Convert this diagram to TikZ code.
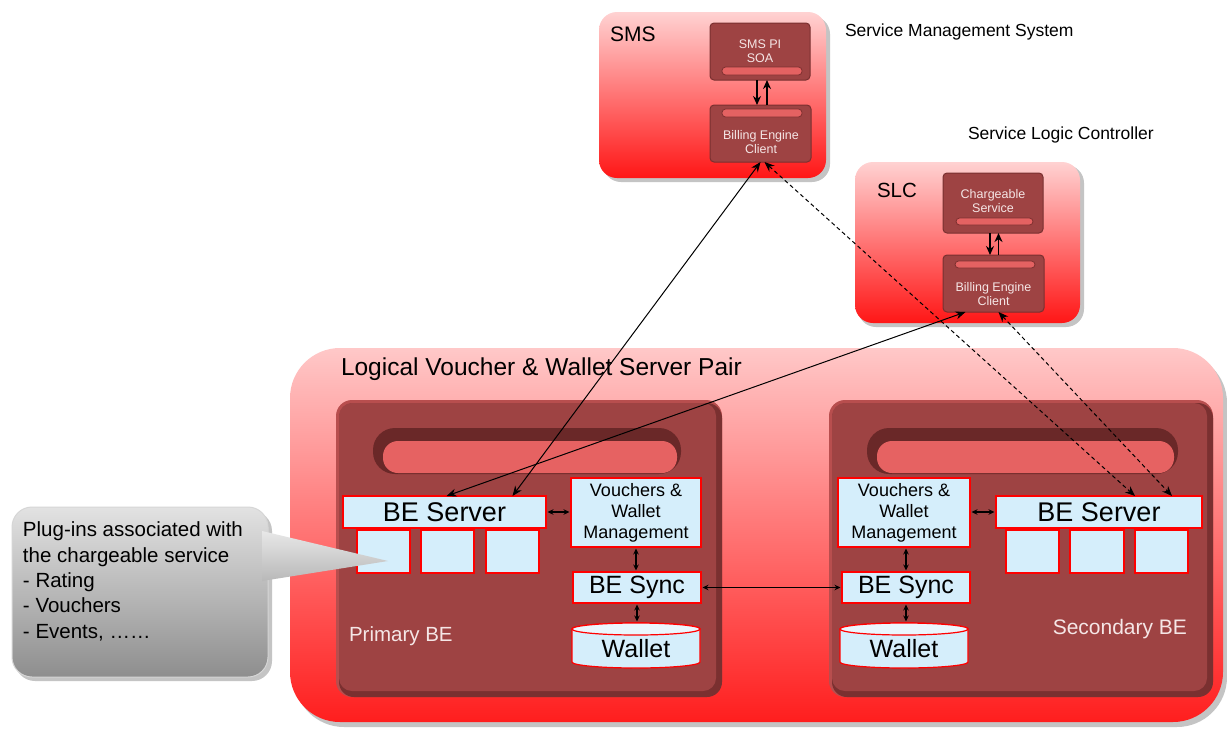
\documentclass[tikz,border=0pt]{standalone}
\usepackage{fontspec}
\setmainfont{Liberation Sans}
\usetikzlibrary{arrows.meta,calc}
\definecolor{pnlTop}{HTML}{FFD2D2}
\definecolor{pnlBot}{HTML}{FF1616}
\definecolor{bigTop}{HTML}{FFC8C8}
\definecolor{bigBot}{HTML}{FF1E1E}
\definecolor{darkbx}{HTML}{9E4343}
\definecolor{darkedge}{HTML}{7A3030}
\definecolor{lightedge}{HTML}{B84E4E}
\definecolor{stripec}{HTML}{E46262}
\definecolor{stripeedge}{HTML}{7E3030}
\definecolor{grooveD}{HTML}{6A2828}
\definecolor{grooveL}{HTML}{E66262}
\definecolor{lblue}{HTML}{D5EEFB}
\definecolor{lblueT}{HTML}{EAF6FD}
\definecolor{boxtxt}{HTML}{F5E6E6}
\definecolor{shadowc}{HTML}{C4C4C4}
\definecolor{callTop}{HTML}{E2E2E2}
\definecolor{callBot}{HTML}{8E8E8E}
\definecolor{callEdge}{HTML}{D6D6D6}
\definecolor{ptrTop}{HTML}{E8E8E8}
\definecolor{ptrBot}{HTML}{B8B8B8}
\begin{document}
\begin{tikzpicture}[x=1pt,y=1pt,
  panel/.style={rectangle,rounded corners=#1,draw=none,inner sep=0pt,outer sep=0pt},
  darkbox/.style={rectangle,rounded corners=4pt,fill=darkbx,draw=darkedge,line width=1pt,inner sep=0pt,outer sep=0pt},
  stripe/.style={rounded corners=3.5pt,fill=stripec,draw=stripeedge,line width=0.8pt},
  smalltxt/.style={inner sep=0pt,text=boxtxt,align=center,font=\fontsize{12.5}{14}\selectfont},
  bluebox/.style={rectangle,fill=lblue,draw=red,line width=1.2pt,inner sep=0pt,outer sep=0pt,text=black},
  lbl/.style={inner sep=0pt,outer sep=0pt,anchor=base west},
  bigarr/.style={{Stealth[length=10pt,width=8pt]}-{Stealth[length=10pt,width=8pt]},line width=1pt},
  oneway/.style={-{Stealth[length=9pt,width=8pt]},line width=1.8pt},
  twoway/.style={{Stealth[length=6pt,width=5.5pt]}-{Stealth[length=6pt,width=5.5pt]},line width=1.1pt,shorten <=1.5pt,shorten >=1.5pt},
  dsh/.style={dash pattern=on 4pt off 3pt}
]
\useasboundingbox (0,0) rectangle (1227,-729);
\fill[white] (0,0) rectangle (1227,-729);

% ---------- big panel ----------
\fill[shadowc,rounded corners=50pt] (294,-353) rectangle (1227,-727);
\node[panel=50pt,top color=bigTop,bottom color=bigBot,minimum width=933pt,minimum height=374pt] (pair) at (756.5,-535) {};
\node[lbl,font=\fontsize{24.5}{28}\selectfont] (pairlbl) at (341,-375) {Logical Voucher \& Wallet Server Pair};

% primary BE
\node[panel=16pt,fill=lightedge,minimum width=386pt,minimum height=297pt] (prim) at (529,-548.5) {};
\fill[darkedge,rounded corners=15pt] ([shift={(3,-3)}]prim.north west) rectangle (prim.south east);
\fill[darkbx,rounded corners=13pt] ([shift={(3,-3)}]prim.north west) rectangle ([shift={(-6,6)}]prim.south east);
\fill[grooveD,rounded corners=22pt] (373,-428) rectangle (681,-474);
\fill[grooveL,rounded corners=15pt] (383,-441) rectangle (677,-473);

% secondary BE
\node[panel=16pt,fill=lightedge,minimum width=384pt,minimum height=297pt] (sec) at (1021,-548.5) {};
\fill[darkedge,rounded corners=15pt] ([shift={(3,-3)}]sec.north west) rectangle (sec.south east);
\fill[darkbx,rounded corners=13pt] ([shift={(3,-3)}]sec.north west) rectangle ([shift={(-6,6)}]sec.south east);
\fill[grooveD,rounded corners=22pt] (867,-428) rectangle (1178,-474);
\fill[grooveL,rounded corners=15pt] (877,-441) rectangle (1174,-473);

\node[lbl,text=boxtxt,font=\fontsize{20.5}{24}\selectfont] (primlbl) at (349,-641) {Primary BE};
\node[inner sep=0pt,outer sep=0pt,anchor=base east,text=boxtxt,font=\fontsize{21}{24}\selectfont] (seclbl) at (1187,-634) {Secondary BE};

% primary blue boxes
\node[bluebox,minimum width=203pt,minimum height=32pt,font=\fontsize{27}{30}\selectfont] (bes1) at (444.5,-512) {BE Server};
\node[bluebox,minimum width=53pt,minimum height=43pt] (p1a) at (383.5,-551.5) {};
\node[bluebox,minimum width=53pt,minimum height=43pt] (p1b) at (447.5,-551.5) {};
\node[bluebox,minimum width=53pt,minimum height=43pt] (p1c) at (512.5,-551.5) {};
\node[bluebox,minimum width=130pt,minimum height=69pt,align=center,font=\fontsize{18}{21}\selectfont] (vwm1) at (636,-512.5) {Vouchers \&\\Wallet\\Management};
\node[bluebox,minimum width=128pt,minimum height=31pt,font=\fontsize{25}{28}\selectfont] (sync1) at (637,-587.5) {BE Sync};
\draw[fill=lblue,draw=red,line width=1.2pt] (572,-629) -- (572,-662) arc[start angle=180,end angle=360,x radius=64,y radius=6] -- (700,-629) arc[start angle=0,end angle=180,x radius=64,y radius=6] -- cycle;
\draw[fill=lblueT,draw=red,line width=1.2pt] (636,-629) ellipse[x radius=64,y radius=6];
\node[inner sep=0pt,outer sep=0pt,minimum width=128pt,minimum height=45pt] (wal1) at (636,-645.5) {};
\node[inner sep=0pt,font=\fontsize{25}{28}\selectfont] (wal1txt) at (636,-649) {Wallet};

% secondary blue boxes
\node[bluebox,minimum width=206pt,minimum height=32pt,font=\fontsize{27}{30}\selectfont] (bes2) at (1099,-512) {BE Server};
\node[bluebox,minimum width=53pt,minimum height=43pt] (p2a) at (1032.5,-551.5) {};
\node[bluebox,minimum width=54pt,minimum height=43pt] (p2b) at (1097,-551.5) {};
\node[bluebox,minimum width=53pt,minimum height=43pt] (p2c) at (1161.5,-551.5) {};
\node[bluebox,minimum width=132pt,minimum height=69pt,align=center,font=\fontsize{18}{21}\selectfont] (vwm2) at (904,-512.5) {Vouchers \&\\Wallet\\Management};
\node[bluebox,minimum width=128pt,minimum height=31pt,font=\fontsize{25}{28}\selectfont] (sync2) at (906,-587.5) {BE Sync};
\draw[fill=lblue,draw=red,line width=1.2pt] (840,-629) -- (840,-662) arc[start angle=180,end angle=360,x radius=64,y radius=6] -- (968,-629) arc[start angle=0,end angle=180,x radius=64,y radius=6] -- cycle;
\draw[fill=lblueT,draw=red,line width=1.2pt] (904,-629) ellipse[x radius=64,y radius=6];
\node[inner sep=0pt,outer sep=0pt,minimum width=128pt,minimum height=45pt] (wal2) at (904,-645.5) {};
\node[inner sep=0pt,font=\fontsize{25}{28}\selectfont] (wal2txt) at (904,-649) {Wallet};

% inner arrows
\draw[twoway] (bes1.east) -- (vwm1.west |- bes1.east);
\draw[twoway] (vwm1.south) -- (vwm1.south |- sync1.north);
\draw[twoway] (sync1.south) -- (sync1.south |- wal1.north);
\draw[twoway] (sync1.east) -- (sync2.west);
\draw[twoway] (vwm2.east |- bes2.west) -- (bes2.west);
\draw[twoway] (sync2.north |- vwm2.south) -- (sync2.north);
\draw[twoway] (sync2.south) -- (sync2.south |- wal2.north);

% ---------- SMS ----------
\fill[shadowc,rounded corners=18pt] (603,-16) rectangle (830,-182);
\node[panel=18pt,top color=pnlTop,bottom color=pnlBot,minimum width=227pt,minimum height=166pt] (sms) at (712.5,-95) {};
\node[lbl,font=\fontsize{21}{24}\selectfont] (smslbl) at (610,-41) {SMS};
\node[darkbox,minimum width=100pt,minimum height=57pt] (smspi) at (760,-51.5) {};
\draw[stripe] (722,-67) rectangle (802,-75);
\node[smalltxt] (smspitxt) at (760,-51) {SMS PI\\SOA};
\node[darkbox,minimum width=101pt,minimum height=57pt] (smsbec) at (760.5,-133.5) {};
\draw[stripe] (722,-109) rectangle (802,-117);
\node[smalltxt] (smsbectxt) at (761,-142.5) {Billing Engine\\Client};
\draw[oneway] ([xshift=-3pt]smspi.south) -- ([xshift=-3pt]smspi.south |- smsbec.north);
\draw[oneway] ([xshift=6.5pt]smsbec.north) -- ([xshift=6.5pt]smsbec.north |- smspi.south);
\node[lbl,font=\fontsize{17.5}{20}\selectfont] (smsttl) at (845,-36.5) {Service Management System};

% ---------- SLC ----------
\fill[shadowc,rounded corners=18pt] (858,-165) rectangle (1084,-327);
\node[panel=18pt,top color=pnlTop,bottom color=pnlBot,minimum width=225pt,minimum height=161pt] (slc) at (967.5,-242.5) {};
\node[lbl,font=\fontsize{20.5}{24}\selectfont] (slclbl) at (877,-197) {SLC};
\node[darkbox,minimum width=100pt,minimum height=60pt] (chg) at (993,-203) {};
\draw[stripe] (956,-218) rectangle (1033,-225);
\node[smalltxt] (chgtxt) at (993,-201.5) {Chargeable\\Service};
\node[darkbox,minimum width=101pt,minimum height=57pt] (slcbec) at (993.5,-283.5) {};
\draw[stripe] (955,-261) rectangle (1035,-268);
\node[smalltxt] (slcbectxt) at (993.5,-294) {Billing Engine\\Client};
\draw[oneway] ([xshift=-3pt]chg.south) -- ([xshift=-3pt]chg.south |- slcbec.north);
\draw[oneway] ([xshift=5pt]slcbec.north) -- ([xshift=5pt]slcbec.north |- chg.south);
\node[lbl,font=\fontsize{17.5}{20}\selectfont] (slcttl) at (968,-139.5) {Service Logic Controller};

% ---------- callout ----------
\fill[shadowc,rounded corners=20pt] (15,-511) rectangle (272,-681);
\node[panel=20pt,top color=callTop,bottom color=callBot,draw=callEdge,line width=1pt,minimum width=256pt,minimum height=170pt] (call) at (140,-592) {};
\path[top color=ptrTop,bottom color=ptrBot] (262,-531) -- (388,-561) -- (262,-581) -- cycle;
\node[inner sep=0pt,outer sep=0pt,anchor=north west,align=left,font=\fontsize{20.5}{25.3}\selectfont] (calltxt) at (23,-522) {Plug-ins associated with\\the chargeable service\\- Rating\\- Vouchers\\- Events, ……};

% ---------- connectors ----------
\draw[bigarr] (smsbec.south) -- ([xshift=68pt]bes1.north);
\draw[bigarr] ([xshift=-28pt]slcbec.south) -- ([xshift=2pt]bes1.north);
\draw[bigarr,dsh] ([xshift=4pt]smsbec.south) -- ([xshift=36pt]bes2.north);
\draw[bigarr,dsh] ([xshift=5pt]slcbec.south) -- ([xshift=73pt]bes2.north);
\end{tikzpicture}
\end{document}
